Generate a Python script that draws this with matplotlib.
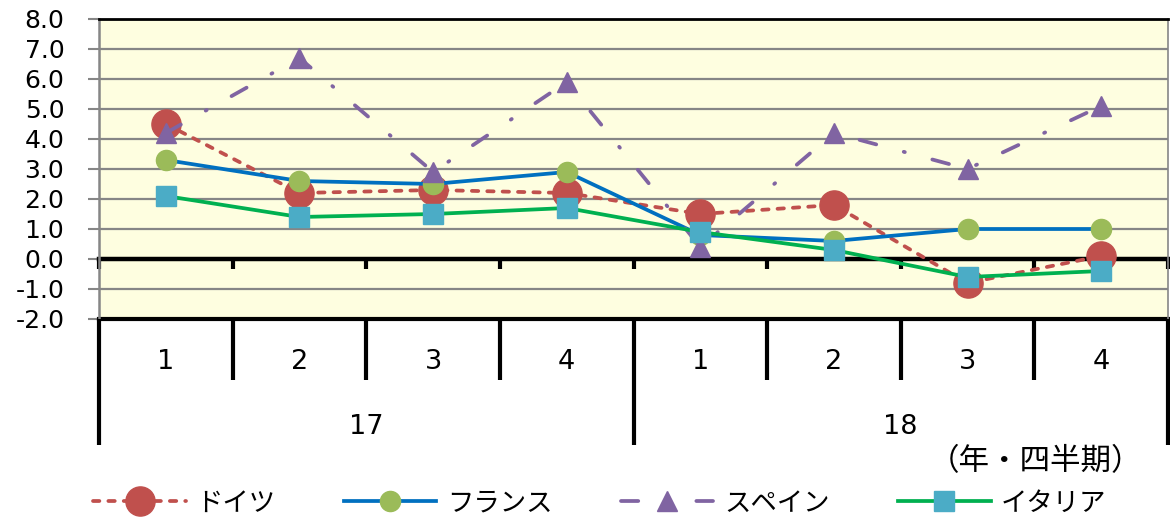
import matplotlib
matplotlib.use("Agg")
import matplotlib.pyplot as plt

plt.rcParams['font.family'] = ['DejaVu Sans', 'Noto Sans CJK JP']

quarters = ['1', '2', '3', '4', '1', '2', '3', '4']
years = ['17', '18']
germany = [4.5, 2.2, 2.3, 2.2, 1.5, 1.8, -0.8, 0.1]
france = [3.3, 2.6, 2.5, 2.9, 0.8, 0.6, 1.0, 1.0]
spain = [4.2, 6.7, 2.9, 5.9, 0.4, 4.2, 3.0, 5.1]
italy = [2.1, 1.4, 1.5, 1.7, 0.9, 0.3, -0.6, -0.4]
series_names = ['ドイツ', 'フランス', 'スペイン', 'イタリア']
xlabel_note = '（年・四半期）'

fig = plt.figure(figsize=(11.7, 5.23), dpi=100)
W, H = 1170, 523
left, right, top, bottom = 99, 1168, 19, 319
ax = fig.add_axes([left / W, 1 - bottom / H, (right - left) / W, (bottom - top) / H])
ax.set_facecolor('#FEFEE0')

x = list(range(1, len(quarters) + 1))
lw = 2.7
ax.plot(x, germany, color='#C0504D', lw=lw, ls=(0, (1.7, 2.4)), dash_capstyle='round',
        marker='o', ms=21, mfc='#C0504D', mec='#C0504D', zorder=3, label=series_names[0])
ax.plot(x, france, color='#0070C0', lw=lw, marker='o', ms=14.5, mfc='#9BBB59', mec='#9BBB59',
        zorder=4, label=series_names[1])
ax.plot(x, spain, color='#8064A2', lw=lw, ls=(0, (4.6, 7.6, 0.3, 7.6)), dash_capstyle='round',
        marker='^', ms=15, mfc='#8064A2', mec='#8064A2', zorder=5, label=series_names[2])
ax.plot(x, italy, color='#00B050', lw=lw, marker='s', ms=14, mfc='#4BACC6', mec='#4BACC6',
        zorder=6, label=series_names[3])

ax.set_xlim(0.5, len(quarters) + 0.5)
ax.set_ylim(-2, 8)
yt = [-2, -1, 0, 1, 2, 3, 4, 5, 6, 7, 8]
ax.set_yticks(yt)
ax.set_yticklabels([f'{v:.1f}' for v in yt], fontsize=18)
ax.tick_params(axis='y', length=8, width=1.5, color='#868686', pad=17)
ax.grid(axis='y', color='#868686', lw=1.6, zorder=1)
ax.set_axisbelow(True)

bounds = [i + 0.5 for i in range(len(quarters) + 1)]
ax.set_xticks(bounds)
ax.set_xticklabels([])
ax.spines['bottom'].set_position(('data', 0))
ax.spines['bottom'].set_linewidth(3.2)
ax.spines['bottom'].set_color('black')
ax.spines['bottom'].set_zorder(2)
ax.tick_params(axis='x', length=7, width=3, color='black', direction='out')
ax.spines['top'].set_linewidth(2)
ax.spines['top'].set_color('black')
ax.spines['left'].set_linewidth(1.8)
ax.spines['left'].set_color('#868686')
ax.spines['right'].set_linewidth(1.2)
ax.spines['right'].set_color('#868686')
ax.axhline(-2, color='black', lw=3, zorder=2, clip_on=False)

# category table below
tb = 445
tax = fig.add_axes([left / W, 1 - tb / H, (right - left) / W, (tb - bottom) / H])
tax.set_xlim(0.5, len(quarters) + 0.5)
tax.set_ylim(0, 1)
tax.axis('off')
short_end = 1 - (380 - bottom) / (tb - bottom)
for i, b in enumerate(bounds):
    if i % 4 == 0:
        tax.plot([b, b], [0, 1], color='black', lw=3, solid_capstyle='butt', clip_on=False)
    else:
        tax.plot([b, b], [short_end, 1], color='black', lw=3, solid_capstyle='butt', clip_on=False)
qy = 1 - (362 - bottom) / (tb - bottom)
yy = 1 - (427 - bottom) / (tb - bottom)
for xi, q in zip(x, quarters):
    tax.text(xi, qy, q, ha='center', va='center', fontsize=19.5)
for k, yr in enumerate(years):
    tax.text(2.5 + 4 * k, yy, yr, ha='center', va='center', fontsize=19.5)

fig.text(1035 / W, 1 - 462 / H, xlabel_note, ha='center', va='center', fontsize=22,
         family=['Noto Sans CJK JP', 'DejaVu Sans'])

handles, labels = ax.get_legend_handles_labels()
leg = fig.legend(handles, labels, loc='center', bbox_to_anchor=(600 / W, 1 - 503 / H), ncol=4,
                 frameon=False, handlelength=3.5, handletextpad=0.4, columnspacing=2.6,
                 prop={'family': ['Noto Sans CJK JP', 'DejaVu Sans'], 'size': 19})

fig.savefig('out.png', dpi=100)
